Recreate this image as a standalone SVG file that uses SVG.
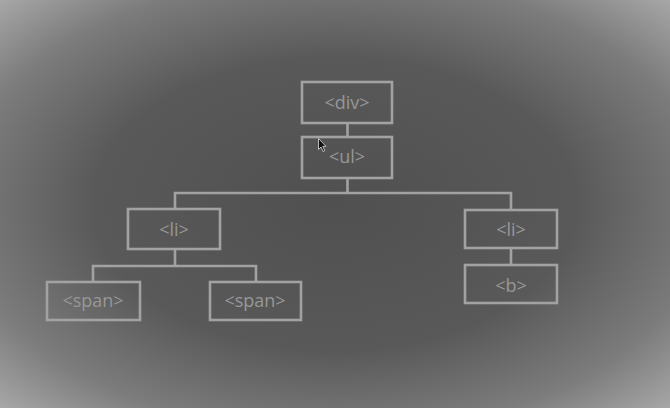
<svg xmlns="http://www.w3.org/2000/svg" width="670" height="408" viewBox="0 0 670 408">
<defs>
<radialGradient id="bg" cx="0.5" cy="0.5" r="0.72">
<stop offset="0" stop-color="#505050"/>
<stop offset="0.5" stop-color="#595959"/>
<stop offset="0.78" stop-color="#7c7c7c"/>
<stop offset="1" stop-color="#ababab"/>
</radialGradient>
<style>
.box{fill:none;stroke:#a2a2a2;stroke-width:2.6}
.lbl{font-family:"Open Sans","Noto Sans",sans-serif;font-size:18px;fill:#979797;text-anchor:middle}
.con{fill:none;stroke:#a2a2a2;stroke-width:2.6}
</style>
</defs>
<rect width="670" height="408" fill="url(#bg)"/>
<g id="connectors">
<path class="con" d="M347.5 123V137"/>
<path class="con" d="M347.5 178V193M175 209V193H511V210"/>
<path class="con" d="M175 249V266M93 282V266H256V282"/>
<path class="con" d="M511 248V265"/>
</g>
<g id="div"><rect class="box" x="302" y="82" width="90" height="41"/><text class="lbl" x="347" y="109">&lt;div&gt;</text></g>
<g id="ul"><rect class="box" x="302" y="137" width="90" height="41"/><text class="lbl" x="347" y="163">&lt;ul&gt;</text></g>
<g id="li1"><rect class="box" x="128" y="209" width="92" height="40"/><text class="lbl" x="174" y="236">&lt;li&gt;</text></g>
<g id="li2"><rect class="box" x="465" y="210" width="92" height="38"/><text class="lbl" x="511" y="236">&lt;li&gt;</text></g>
<g id="span1"><rect class="box" x="47" y="282" width="93" height="38"/><text class="lbl" x="93" y="307">&lt;span&gt;</text></g>
<g id="span2"><rect class="box" x="210" y="282" width="91" height="38"/><text class="lbl" x="255" y="307">&lt;span&gt;</text></g>
<g id="b"><rect class="box" x="465" y="265" width="92" height="38"/><text class="lbl" x="511" y="292">&lt;b&gt;</text></g>
<g id="cursor"><path d="M318.5 138.5V149.5L321 147L323 151.5L324.8 150.7L322.8 146.3H326Z" fill="#111" stroke="#ddd" stroke-width="0.8"/></g>
</svg>
